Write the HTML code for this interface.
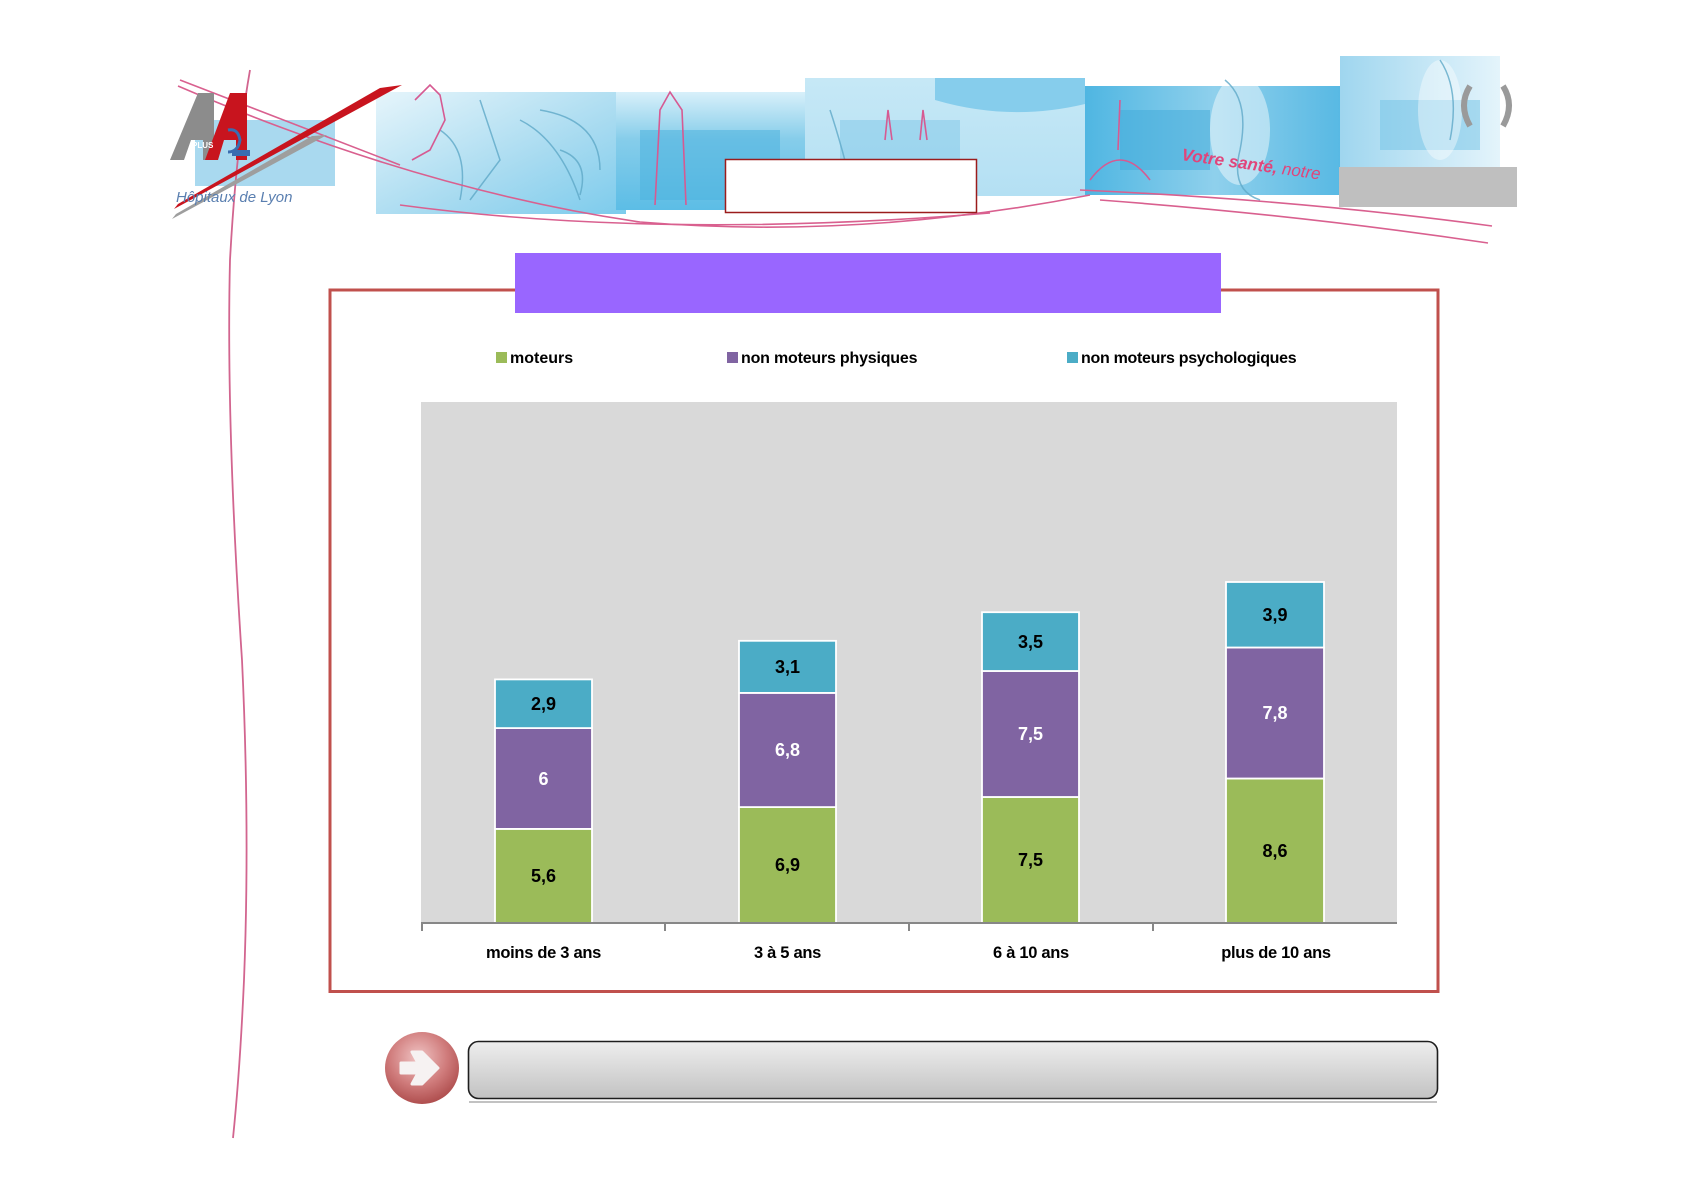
<!DOCTYPE html>
<html>
<head>
<meta charset="utf-8">
<style>
  html,body{margin:0;padding:0;background:#fff;}
  body{width:1684px;height:1190px;overflow:hidden;}
  svg{display:block;}
  .lbl{font-family:"Liberation Sans",Arial,sans-serif;font-weight:bold;}
</style>
</head>
<body>
<svg width="1684" height="1190" viewBox="0 0 1684 1190" xmlns="http://www.w3.org/2000/svg">
  <defs>
    <linearGradient id="btn" x1="0" y1="0" x2="0" y2="1">
      <stop offset="0" stop-color="#eeeeee"/>
      <stop offset="1" stop-color="#c2c2c2"/>
    </linearGradient>
    <radialGradient id="ball" cx="0.45" cy="0.35" r="0.7">
      <stop offset="0" stop-color="#f0c4c4"/>
      <stop offset="0.55" stop-color="#d07c7c"/>
      <stop offset="1" stop-color="#a94646"/>
    </radialGradient>
    <linearGradient id="p2" x1="0" y1="0" x2="1" y2="1">
      <stop offset="0" stop-color="#e6f5fb"/>
      <stop offset="0.6" stop-color="#a6daf0"/>
      <stop offset="1" stop-color="#7ccbec"/>
    </linearGradient>
    <linearGradient id="p3" x1="0" y1="0" x2="0" y2="1">
      <stop offset="0" stop-color="#d8f0fa"/>
      <stop offset="0.4" stop-color="#86cdea"/>
      <stop offset="1" stop-color="#5cbde6"/>
    </linearGradient>
    <linearGradient id="p4" x1="0" y1="0" x2="0" y2="1">
      <stop offset="0" stop-color="#c6e8f6"/>
      <stop offset="1" stop-color="#b4e0f3"/>
    </linearGradient>
    <linearGradient id="p5" x1="0" y1="0" x2="1" y2="0">
      <stop offset="0" stop-color="#4fb6e2"/>
      <stop offset="0.5" stop-color="#8fd0ec"/>
      <stop offset="1" stop-color="#56b8e3"/>
    </linearGradient>
    <linearGradient id="p6" x1="0" y1="0" x2="1" y2="0">
      <stop offset="0" stop-color="#9fd6ef"/>
      <stop offset="1" stop-color="#e4f4fb"/>
    </linearGradient>
  </defs>

  <!-- ===== Header banner ===== -->
  <rect x="195" y="120" width="140" height="66" fill="#a9d9ef"/>
  <rect x="376" y="92" width="250" height="122" fill="url(#p2)"/>
  <rect x="616" y="92" width="190" height="118" fill="url(#p3)"/>
  <rect x="805" y="78" width="280" height="118" fill="url(#p4)"/>
  <path d="M935 78 L1085 78 L1085 104 Q1010 122 935 100 Z" fill="#86cdec"/>
  <rect x="1085" y="86" width="260" height="109" fill="url(#p5)"/>
  <rect x="1340" y="56" width="160" height="128" fill="url(#p6)"/>
  <rect x="640" y="130" width="140" height="70" fill="#4db3df" opacity="0.55"/>
  <rect x="840" y="120" width="120" height="60" fill="#7fc8e8" opacity="0.5"/>
  <rect x="1120" y="110" width="90" height="60" fill="#3fa9da" opacity="0.5"/>
  <rect x="1380" y="100" width="100" height="50" fill="#70c2e6" opacity="0.5"/>
  <ellipse cx="1240" cy="130" rx="30" ry="55" fill="#ffffff" opacity="0.45"/>
  <ellipse cx="1440" cy="110" rx="22" ry="50" fill="#ffffff" opacity="0.4"/>
  <g fill="none" stroke="#5fa9c8" stroke-width="1.5" opacity="0.8">
    <path d="M440 130 Q470 150 460 200"/>
    <path d="M520 120 Q560 140 580 200"/>
    <path d="M540 110 Q600 120 600 170"/>
    <path d="M480 100 L500 160 L470 200"/>
    <path d="M560 150 Q590 160 580 195"/>
    <path d="M830 110 Q840 140 850 180"/>
    <path d="M1225 80 Q1250 100 1240 150 Q1230 190 1260 200"/>
    <path d="M1440 60 Q1460 90 1450 140"/>
  </g>
  <g fill="none" stroke="#d65a92" stroke-width="1.6">
    <path d="M655 205 L660 110 L670 92 L682 110 L686 205"/>
    <path d="M415 100 L430 85 L440 95 L445 120 L430 150 L412 160"/>
    <path d="M885 140 L888 110 L892 140 M920 140 L923 110 L927 140"/>
    <path d="M1090 180 Q1120 140 1150 180"/>
    <path d="M1118 150 L1120 100"/>
  </g>
  <g fill="none" stroke="#d9608f" stroke-width="1.6">
    <path d="M178 86 Q420 190 640 222 Q860 240 1090 195"/>
    <path d="M400 205 Q660 240 990 213"/>
    <path d="M1080 190 Q1300 200 1492 226"/>
    <path d="M1100 200 Q1300 215 1488 243"/>
    <path d="M180 80 L400 165"/>
  </g>
  <path d="M250 70 Q236 150 230 260 Q226 420 242 660 Q250 830 244 980 Q240 1070 233 1138" fill="none" stroke="#d2658f" stroke-width="1.8"/>

  <!-- logo -->
  <g>
    <polygon points="170,160 198,93 214,93 214,160 203,160 203,140 191,140 184,160" fill="#8c8c8c"/>
    <polygon points="205,160 230,93 247,93 247,160 236,160 236,140 224,140 218,160" fill="#c8141e"/>
    <text x="192" y="148" font-family="Liberation Sans,Arial,sans-serif" font-size="8" font-weight="bold" fill="#ffffff">PLUS</text>
    <path d="M228 130 Q238 128 240 140 Q238 152 228 152" fill="none" stroke="#3a6db0" stroke-width="3"/>
    <rect x="232" y="150" width="18" height="6" fill="#3a6db0"/>
    <polygon points="174,209 402,85 380,88 178,204" fill="#c8141e"/>
    <polygon points="172,219 327,135 312,136 176,214" fill="#9e9e9e"/>
    <text x="176" y="202" font-family="Liberation Sans,Arial,sans-serif" font-size="15" font-style="italic" fill="#5a7fb0">Hôpitaux de Lyon</text>
  </g>

  <text x="1181" y="160" transform="rotate(8 1181 160)" font-family="Liberation Sans,Arial,sans-serif" font-size="17" font-style="italic" font-weight="bold" fill="#e0457b">Votre santé, <tspan font-weight="normal">notre</tspan></text>

  <path d="M1470 86 Q1458 105 1470 126" fill="none" stroke="#9a9a9a" stroke-width="6"/>
  <path d="M1503 86 Q1515 105 1503 126" fill="none" stroke="#9a9a9a" stroke-width="6"/>

  <rect x="725.5" y="159.5" width="251" height="53" fill="#ffffff" stroke="#9b1c1c" stroke-width="1.5"/>
  <rect x="1339" y="167" width="178" height="40" fill="#bfbfbf"/>

  <!-- ===== Chart frame ===== -->
  <rect x="330" y="290" width="1108" height="701.5" fill="#ffffff" stroke="#c0504d" stroke-width="3"/>
  <rect x="515" y="253" width="706" height="60" fill="#9966ff"/>

  <!-- legend -->
  <rect x="496" y="352" width="11" height="11" fill="#9bbb59"/>
  <text class="lbl" x="510" y="363" font-size="16" fill="#000">moteurs</text>
  <rect x="727" y="352" width="11" height="11" fill="#8064a2"/>
  <text class="lbl" x="741" y="363" font-size="16" fill="#000" letter-spacing="-0.2">non moteurs physiques</text>
  <rect x="1067" y="352" width="11" height="11" fill="#4bacc6"/>
  <text class="lbl" x="1081" y="363" font-size="16" fill="#000" letter-spacing="-0.3">non moteurs psychologiques</text>

  <!-- plot area -->
  <rect x="421" y="402" width="976" height="521" fill="#d9d9d9"/>

  <g stroke="#ffffff" stroke-width="1.8">
    <rect x="495" y="828.9" width="97" height="94.1" fill="#9bbb59"/>
    <rect x="495" y="728.1" width="97" height="100.8" fill="#8064a2"/>
    <rect x="495" y="679.4" width="97" height="48.7" fill="#4bacc6"/>
    <rect x="739" y="807.1" width="97" height="115.9" fill="#9bbb59"/>
    <rect x="739" y="692.9" width="97" height="114.2" fill="#8064a2"/>
    <rect x="739" y="640.8" width="97" height="52.1" fill="#4bacc6"/>
    <rect x="982" y="797" width="97" height="126" fill="#9bbb59"/>
    <rect x="982" y="671" width="97" height="126" fill="#8064a2"/>
    <rect x="982" y="612.2" width="97" height="58.8" fill="#4bacc6"/>
    <rect x="1226" y="778.5" width="98" height="144.5" fill="#9bbb59"/>
    <rect x="1226" y="647.5" width="98" height="131" fill="#8064a2"/>
    <rect x="1226" y="582" width="98" height="65.5" fill="#4bacc6"/>
  </g>

  <g class="lbl" font-size="18" text-anchor="middle">
    <text x="543.5" y="882" fill="#000">5,6</text>
    <text x="543.5" y="785" fill="#fff">6</text>
    <text x="543.5" y="710" fill="#000">2,9</text>
    <text x="787.5" y="871" fill="#000">6,9</text>
    <text x="787.5" y="756" fill="#fff">6,8</text>
    <text x="787.5" y="673" fill="#000">3,1</text>
    <text x="1030.5" y="866" fill="#000">7,5</text>
    <text x="1030.5" y="740" fill="#fff">7,5</text>
    <text x="1030.5" y="648" fill="#000">3,5</text>
    <text x="1275" y="857" fill="#000">8,6</text>
    <text x="1275" y="719" fill="#fff">7,8</text>
    <text x="1275" y="621" fill="#000">3,9</text>
  </g>

  <line x1="421" y1="923" x2="1397" y2="923" stroke="#878787" stroke-width="2"/>
  <g stroke="#878787" stroke-width="2">
    <line x1="422" y1="923" x2="422" y2="931"/>
    <line x1="665" y1="923" x2="665" y2="931"/>
    <line x1="909" y1="923" x2="909" y2="931"/>
    <line x1="1153" y1="923" x2="1153" y2="931"/>
  </g>
  <g class="lbl" font-size="16.5" text-anchor="middle" fill="#000">
    <text x="543.5" y="958" letter-spacing="-0.3">moins de 3 ans</text>
    <text x="787.5" y="958" letter-spacing="-0.3">3 à 5 ans</text>
    <text x="1031" y="958" letter-spacing="-0.3">6 à 10 ans</text>
    <text x="1276" y="958" letter-spacing="-0.3">plus de 10 ans</text>
  </g>

  <!-- ===== Bottom button ===== -->
  <ellipse cx="422" cy="1068" rx="37" ry="36" fill="url(#ball)"/>
  <path d="M401 1063 L418 1063 L412 1052 L422 1052 L438 1068 L422 1084 L412 1084 L418 1073 L401 1073 Z" fill="#f6f2f2" stroke="#f6f2f2" stroke-width="3" stroke-linejoin="round"/>
  <rect x="469" y="1101" width="968" height="2" fill="#9a9a9a" opacity="0.6"/>
  <rect x="468.5" y="1041.5" width="969" height="57" rx="10" ry="10" fill="url(#btn)" stroke="#1e1e1e" stroke-width="1.6"/>
</svg>
</body>
</html>
